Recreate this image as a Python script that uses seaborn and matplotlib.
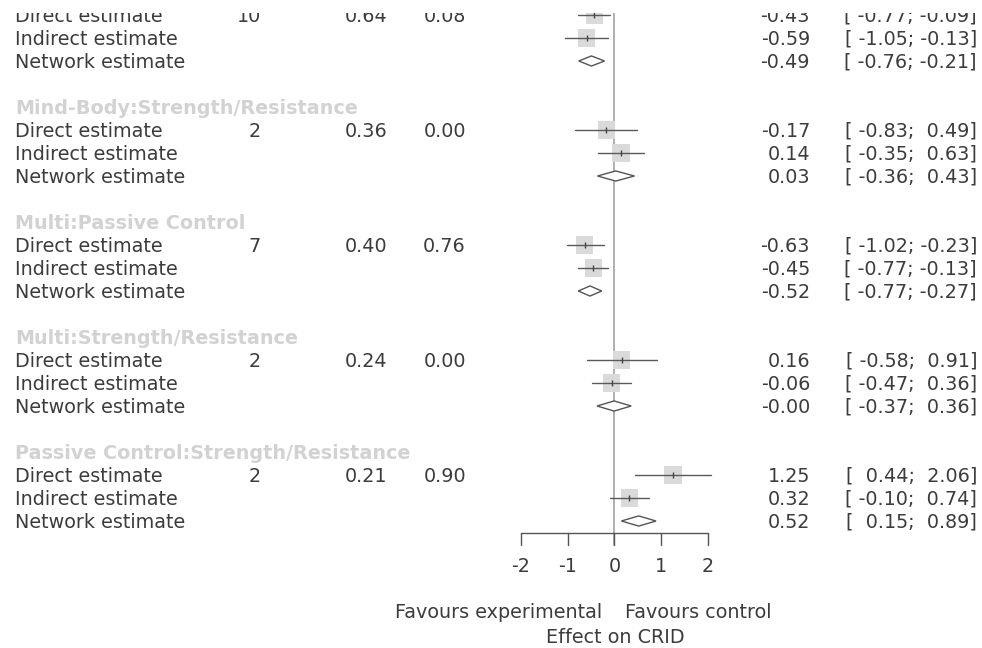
import numpy as np
import seaborn as sns
import matplotlib.pyplot as plt
from matplotlib.patches import Polygon, Rectangle
from matplotlib.transforms import blended_transform_factory

# comparisons (the first header sits above the visible area)
comparisons = [
    "Mind-Body:Passive Control",
    "Mind-Body:Strength/Resistance",
    "Multi:Passive Control",
    "Multi:Strength/Resistance",
    "Passive Control:Strength/Resistance",
]
n_studies = [10, 2, 7, 2, 2]
prop_direct = [0.64, 0.36, 0.40, 0.24, 0.21]
i2 = [0.08, 0.00, 0.76, 0.00, 0.90]

direct_est = [-0.43, -0.17, -0.63, 0.16, 1.25]
direct_lo = [-0.77, -0.83, -1.02, -0.58, 0.44]
direct_hi = [-0.09, 0.49, -0.23, 0.91, 2.06]

indirect_est = [-0.59, 0.14, -0.45, -0.06, 0.32]
indirect_lo = [-1.05, -0.35, -0.77, -0.47, -0.10]
indirect_hi = [-0.13, 0.63, -0.13, 0.36, 0.74]

network_est = [-0.49, 0.03, -0.52, -0.004, 0.52]
network_lo = [-0.76, -0.36, -0.77, -0.37, 0.15]
network_hi = [-0.21, 0.43, -0.27, 0.36, 0.89]

xticks = [-2, -1, 0, 1, 2]
label_left = "Favours experimental"
label_right = "Favours control"
xlab = "Effect on CRID"

sns.set_theme(style="white")
plt.rcParams["font.family"] = ["DejaVu Sans"]

W, H = 982, 648
FS = 13.8
TXT = "#3c3c3c"
HEAD = "#d2d2d2"

fig = plt.figure(figsize=(W / 100, H / 100), dpi=100)
# forest panel: x -2..2 maps to pixels 520.7..708, rows are 23 px apart
ax = fig.add_axes([520.7 / W, 0, 187.3 / W, 1])
ax.set_xlim(-2, 2)
ax.set_ylim((H - 15) / 23, -15 / 23)
ax.axis("off")

tr = blended_transform_factory(fig.transFigure, ax.transData)


def px(x):
    return x / W


base = 0.30  # baseline offset below row centre (row units)
rows = []
for i, comp in enumerate(comparisons):
    r0 = 5 * i - 1
    ax.text(px(15), r0 + base, comp, transform=tr, fontsize=FS,
            fontweight="bold", color=HEAD, va="baseline")
    ests = [(direct_est[i], direct_lo[i], direct_hi[i], "Direct estimate"),
            (indirect_est[i], indirect_lo[i], indirect_hi[i], "Indirect estimate"),
            (network_est[i], network_lo[i], network_hi[i], "Network estimate")]
    for j, (e, lo, hi, lab) in enumerate(ests):
        r = r0 + 1 + j
        ax.text(px(15), r + base, lab, transform=tr, fontsize=FS, color=TXT, va="baseline")
        ax.text(px(810), r + base, f"{e:.2f}", transform=tr, fontsize=FS,
                color=TXT, va="baseline", ha="right")
        ax.text(px(977), r + base, f"[{lo:6.2f};{hi:6.2f}]", transform=tr,
                fontsize=FS, color=TXT, va="baseline", ha="right")
        rows.append(dict(row=r, est=e, lo=lo, hi=hi, kind=j))
    ax.text(px(261), r0 + 1 + base, f"{n_studies[i]}", transform=tr, fontsize=FS,
            color=TXT, va="baseline", ha="right")
    ax.text(px(387), r0 + 1 + base, f"{prop_direct[i]:.2f}", transform=tr,
            fontsize=FS, color=TXT, va="baseline", ha="right")
    ax.text(px(466), r0 + 1 + base, f"{i2[i]:.2f}", transform=tr,
            fontsize=FS, color=TXT, va="baseline", ha="right")

# reference line at 0
axis_y = (533 - 15) / 23
tick_y = (545 - 15) / 23
ax.plot([0, 0], [-1, tick_y], color="#9a9a9a", lw=1.1, clip_on=False, zorder=1)

sq = [d for d in rows if d["kind"] < 2]
sq_x = [d["est"] for d in sq]
sq_y = [d["row"] for d in sq]
sns.scatterplot(x=sq_x, y=sq_y, marker="s", s=155, color="#dadada",
                edgecolor="none", ax=ax, zorder=2, clip_on=False, legend=False)
for d in sq:
    ax.plot([d["lo"], d["hi"]], [d["row"], d["row"]], color="#5a5a5a", lw=1,
            zorder=3, clip_on=False)
    ax.plot([d["est"]], [d["row"]], marker="|", ms=5, mew=1, color="#444444",
            zorder=4, clip_on=False)

for d in rows:
    if d["kind"] != 2:
        continue
    h = 0.22
    r = d["row"]
    ax.add_patch(Polygon([[d["lo"], r], [d["est"], r - h], [d["hi"], r], [d["est"], r + h]],
                         closed=True, facecolor="white", edgecolor="#555555", lw=1,
                         zorder=3, clip_on=False))

# x axis
ax.plot([xticks[0], xticks[-1]], [axis_y, axis_y], color="#555555", lw=1, clip_on=False)
for t in xticks:
    ax.plot([t, t], [axis_y, tick_y], color="#555555", lw=1, clip_on=False)
    ax.text(t, 24.0, f"{t}", fontsize=FS, color=TXT, ha="center", va="center")

ax.text(-0.27, 26.0, label_left, fontsize=FS, color=TXT, ha="right", va="center")
ax.text(0.23, 26.0, label_right, fontsize=FS, color=TXT, ha="left", va="center")
ax.text(0.03, 27.05, xlab, fontsize=FS, color=TXT, ha="center", va="center")

# top strip of the reference is blank (cropped)
fig.patches.append(Rectangle((0, 1 - 13 / H), 1, 13 / H, transform=fig.transFigure,
                             facecolor="white", edgecolor="none", zorder=10))

fig.savefig("out.png", dpi=100)
